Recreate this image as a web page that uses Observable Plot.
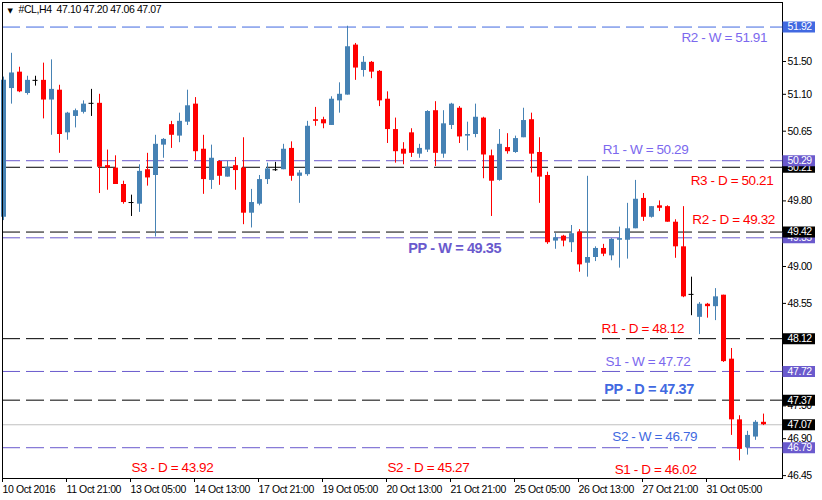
<!DOCTYPE html>
<html><head><meta charset="utf-8">
<script src="https://cdn.jsdelivr.net/npm/d3@7"></script>
<script src="https://cdn.jsdelivr.net/npm/@observablehq/plot@0.6"></script>
<style>
body{margin:0;background:#fff;}
#chart svg{display:block;}
#chart g[aria-label="level label"]{letter-spacing:0;}
</style></head><body><div id="chart"></div>
<script>
// ---------- data ----------
const symbol = "#CL,H4";
const timeLabels = ["10 Oct 2016","11 Oct 21:00","13 Oct 05:00","14 Oct 13:00","17 Oct 21:00","19 Oct 05:00","20 Oct 13:00","21 Oct 21:00","25 Oct 05:00","26 Oct 13:00","27 Oct 21:00","31 Oct 05:00"];
const opens  = [49.60,51.17,51.37,51.11,51.27,51.27,51.03,51.15,50.63,50.83,50.88,50.99,50.99,50.23,50.20,50.00,49.78,49.76,50.18,50.11,50.48,50.73,50.59,50.76,50.98,50.43,50.05,50.28,50.09,50.23,50.20,49.65,49.76,50.06,50.18,50.18,50.44,50.10,50.12,50.79,50.79,50.72,51.02,51.09,51.70,51.39,51.49,51.38,51.04,50.67,50.43,50.63,50.37,50.42,50.90,50.37,50.72,50.93,50.59,50.61,50.81,50.35,50.05,50.45,50.39,50.57,50.79,50.39,50.11,49.31,49.37,49.29,49.42,49.04,49.11,49.22,49.13,49.32,49.32,49.46,49.83,49.60,49.74,49.73,49.54,49.24,48.66,48.38,48.54,48.51,48.65,47.87,47.13,46.79,46.92,47.10];
const highs  = [51.31,51.60,51.43,51.32,51.32,51.48,51.52,51.21,50.88,50.92,51.02,51.16,51.10,50.42,50.35,50.04,49.87,50.24,50.38,50.60,50.56,50.77,50.87,51.15,51.06,50.60,50.48,50.29,50.28,50.33,50.57,49.94,50.11,50.26,50.27,50.49,50.52,50.17,50.77,50.94,50.82,51.07,51.24,51.93,51.72,51.56,51.50,51.39,51.13,50.81,50.51,50.68,50.49,50.90,51.01,50.90,50.99,50.95,50.76,50.98,50.82,50.42,50.67,50.62,50.59,50.93,50.87,50.57,50.15,49.40,49.38,49.50,49.45,50.10,49.24,49.27,49.34,49.48,49.77,50.05,49.89,49.73,49.80,49.74,49.57,49.73,48.87,48.56,48.55,48.73,48.65,48.00,47.18,46.99,47.12,47.20];
const lows   = [49.56,50.98,51.12,51.09,51.20,50.80,50.60,50.38,50.54,50.69,50.86,50.83,49.89,49.93,50.00,49.76,49.61,49.66,49.98,49.36,50.32,50.44,50.51,50.72,50.29,49.88,49.94,49.99,50.09,49.93,49.51,49.47,49.74,50.00,50.16,50.18,50.04,49.77,50.10,50.71,50.68,50.72,50.87,51.09,51.27,51.31,51.29,50.95,50.50,50.26,50.24,50.33,50.32,50.39,50.22,50.32,50.67,50.50,50.41,50.57,50.07,49.61,50.04,50.37,50.38,50.57,50.14,49.77,49.27,49.21,49.24,49.17,48.93,48.87,49.06,49.12,49.07,48.98,49.09,49.46,49.55,49.59,49.67,49.54,49.10,48.62,48.40,48.17,48.37,48.34,47.83,46.94,46.63,46.70,46.88,47.06];
const closes = [51.27,51.36,51.13,51.27,51.27,51.03,51.16,50.61,50.87,50.90,50.98,50.99,50.21,50.20,50.00,49.78,49.78,50.16,50.08,50.49,50.55,50.60,50.77,50.96,50.40,50.06,50.32,50.10,50.21,50.17,49.65,49.78,50.06,50.19,50.18,50.43,50.10,50.14,50.71,50.77,50.74,51.04,51.10,51.68,51.42,51.49,51.37,51.02,50.67,50.40,50.37,50.38,50.44,50.89,50.38,50.74,50.98,50.58,50.61,50.82,50.36,50.04,50.49,50.40,50.56,50.78,50.37,50.09,49.29,49.35,49.31,49.40,49.02,49.11,49.22,49.15,49.33,49.34,49.46,49.82,49.60,49.73,49.71,49.54,49.24,48.63,48.66,48.54,48.51,48.63,47.84,47.13,46.77,46.94,47.10,47.07];

const levelValues = [51.92, 50.29, 50.21, 49.42, 49.35, 48.12, 47.72, 47.37, 46.79];
const levelKinds  = ["RW", "W", "D", "D", "W", "D", "W", "D", "W"];
const lastPrice = 47.07;
const priceTicks = [51.50, 51.10, 50.65, 49.80, 49.00, 48.55, 47.30, 46.90, 46.45];

const labelTexts  = ["R2 - W = 51.91","R1 - W = 50.29","R3 - D = 50.21","R2 - D = 49.32","PP - W = 49.35","R1 - D = 48.12","S1 - W = 47.72","PP - D = 47.37","S2 - W = 46.79","S3 - D = 43.92","S2 - D = 45.27","S1 - D = 46.02"];
const labelBars   = [84.75, 74.9, 85.9, 86.1, 50.6, 74.75, 75.25, 75.1, 76.1, 16.0, 48.0, 76.4];
const labelPrices = [51.79, 50.42, 50.05, 49.57, 49.22, 48.24, 47.84, 47.50, 46.93, 46.55, 46.55, 46.52];
const labelKinds  = ["RW","W","D","D","PW","D","W","PD","SW","D","D","D"];

// ---------- build ----------
const bars = opens.map((o, i) => ({i, o, h: highs[i], l: lows[i], c: closes[i]}));
const candleColor = d => d.c > d.o ? "#4682B4" : d.c < d.o ? "#FF0000" : "#000000";
const bodies = bars.filter(d => d.c !== d.o);
const dojis = bars.filter(d => d.c === d.o);
const halfBody = 0.3125;

const lineColor = {RW: "#4169E1", W: "#6A5ACD", D: "#000000"};
const levels = levelValues.map((v, k) => ({v, kind: levelKinds[k]}));
const tags = [...levels, {v: lastPrice, kind: "D"}].sort((a, b) => a.v - b.v);

const labelColor = {RW: "#7B68EE", W: "#7B68EE", D: "#FF0000", PW: "#6A5ACD", PD: "#4169E1", SW: "#4169E1"};
const labels = labelTexts.map((t, k) => ({t, x: labelBars[k], y: labelPrices[k], kind: labelKinds[k]}));
const plainLabels = labels.filter(d => d.kind !== "PW" && d.kind !== "PD");
const boldLabels = labels.filter(d => d.kind === "PW" || d.kind === "PD");

const xDomain = [-0.125, 97.375];
const xEnd = xDomain[1];
const last = bars[bars.length - 1];
const header = `${symbol}\u2002${last.o.toFixed(2)} ${last.h.toFixed(2)} ${last.l.toFixed(2)} ${last.c.toFixed(2)}`;

const tagMarks = tags.flatMap(t => [
  Plot.ruleY([t], {y: "v", x1: xEnd + 0.0625, x2: xEnd + 4.125, stroke: lineColor[t.kind], strokeWidth: 11}),
  Plot.text([t], {y: "v", x: xEnd, text: d => d.v.toFixed(2), textAnchor: "start", dx: 5, fill: "white", ariaLabel: "tag"})
]);

const chart = Plot.plot({
  width: 822,
  height: 500,
  marginLeft: 2,
  marginRight: 40,
  marginTop: 2,
  marginBottom: 22,
  x: {domain: xDomain},
  y: {domain: [46.4146, 52.2195]},
  style: {fontFamily: "'Liberation Sans', Arial, sans-serif", fontSize: "10.5px", letterSpacing: "-0.4px", background: "#ffffff", color: "#000", overflow: "visible"},
  marks: [
    Plot.ruleY(levels, {y: "v", stroke: d => lineColor[d.kind], strokeDasharray: "18,6"}),
    Plot.ruleY([lastPrice], {stroke: "#C0C0C0"}),
    Plot.ruleX(bars, {x: "i", y1: "l", y2: "h", stroke: candleColor, strokeWidth: 1}),
    Plot.ruleX(bodies, {x: "i", y1: "o", y2: "c", stroke: candleColor, strokeWidth: 5}),
    Plot.ruleY(dojis, {y: "c", x1: d => d.i - halfBody, x2: d => d.i + halfBody, stroke: "#000", strokeWidth: 1}),
    Plot.text(plainLabels, {x: "x", y: "y", text: "t", fill: d => labelColor[d.kind], textAnchor: "start", fontSize: 13.5, ariaLabel: "level label"}),
    Plot.text(boldLabels, {x: "x", y: "y", text: "t", fill: d => labelColor[d.kind], textAnchor: "start", fontSize: 14.5, fontWeight: "bold", ariaLabel: "level label"}),
    Plot.axisY(priceTicks, {anchor: "right", tickSize: 3, tickPadding: 2, tickFormat: d => d.toFixed(2), stroke: "#000", fill: "#000"}),
    Plot.axisX(timeLabels.map((_, k) => k * 8), {anchor: "bottom", tickSize: 4, tickPadding: 3, tickFormat: d => timeLabels[d / 8], textAnchor: "start", dx: -1, stroke: "#000", fill: "#000"}),
    Plot.frame({stroke: "#000"}),
    ...tagMarks,
    Plot.text([header], {frameAnchor: "top-left", text: d => d, dx: 16, dy: 3, fill: "#000", ariaLabel: "header"}),
    Plot.text(["\u25BC"], {frameAnchor: "top-left", text: d => d, dx: 5, dy: 6, fontSize: 7, fontFamily: "DejaVu Sans", fill: "#000"})
  ]
});
document.getElementById("chart").appendChild(chart);
</script>
</body></html>
